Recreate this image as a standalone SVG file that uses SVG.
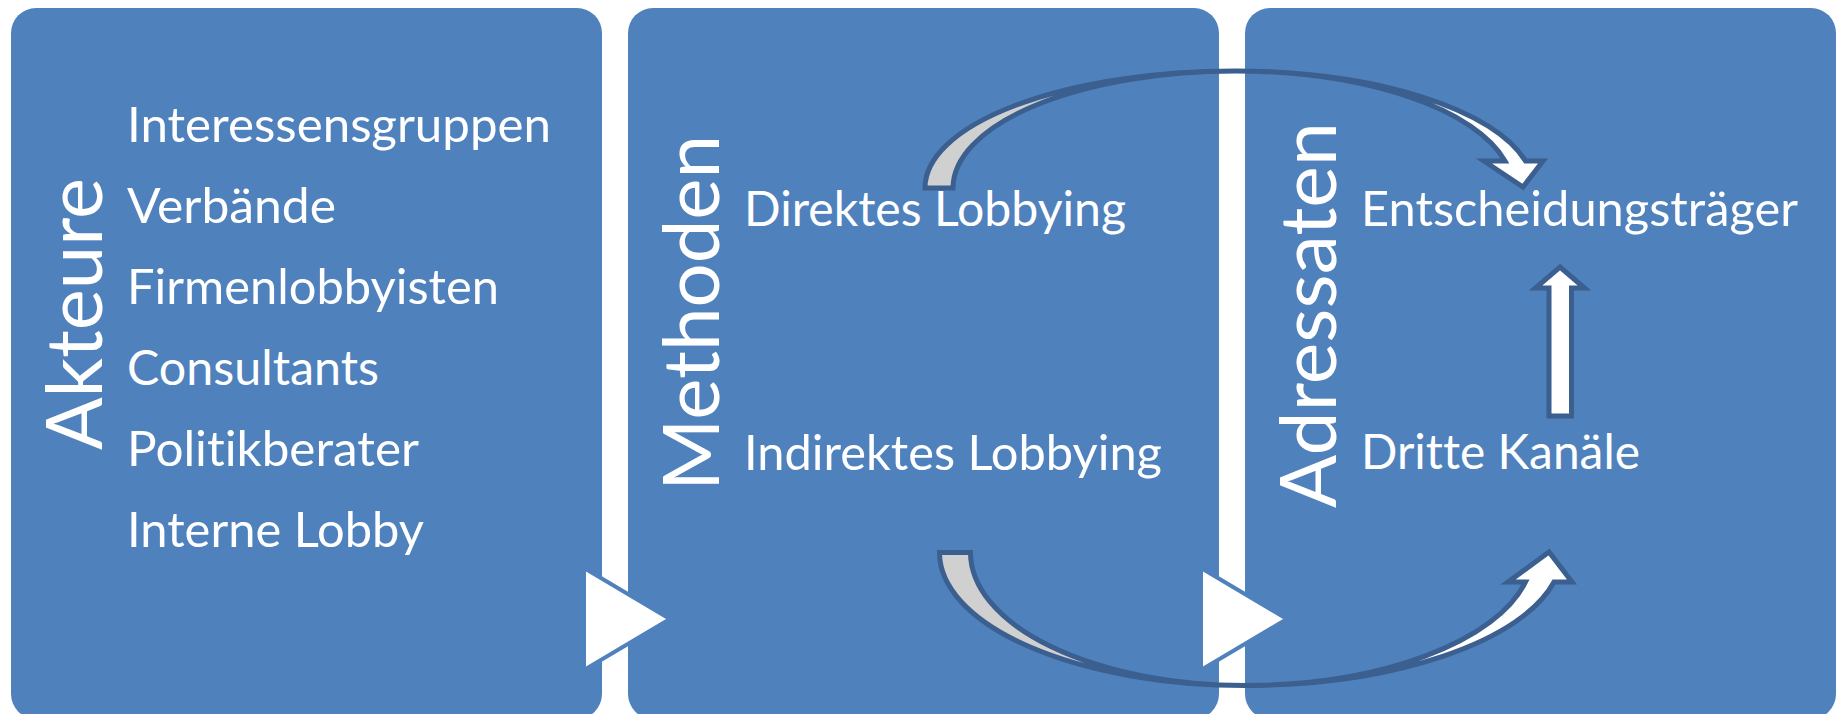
<svg xmlns="http://www.w3.org/2000/svg" width="1839" height="714" viewBox="0 0 1839 714">
<style>
.box{fill:#4f81bd}
.item{font-family:Lato,"Open Sans",sans-serif;font-size:47.5px;fill:#ffffff;font-variant-ligatures:none}
.title{font-family:Lato,"Open Sans",sans-serif;font-size:77px;fill:#ffffff;font-variant-ligatures:none}
.chev{fill:#ffffff;stroke:#4f81bd;stroke-width:4}
.arr{stroke:#3b5f8e;stroke-width:5;stroke-linejoin:miter}
.back{fill:#d0d0d0}
.front{fill:#ffffff}
</style>
<rect width="1839" height="714" fill="#ffffff"/>
<g id="node-akteure">
<rect class="box" x="11" y="8" width="591" height="711" rx="25" ry="25"/>
<text class="title" text-anchor="middle" transform="translate(102,314) rotate(-90)" textLength="272" lengthAdjust="spacingAndGlyphs">Akteure</text>
<text class="item" x="127" y="141.5" textLength="424" lengthAdjust="spacingAndGlyphs">Interessensgruppen</text>
<text class="item" x="127" y="222.5" textLength="209" lengthAdjust="spacingAndGlyphs">Verbände</text>
<text class="item" x="127" y="303.5" textLength="372" lengthAdjust="spacingAndGlyphs">Firmenlobbyisten</text>
<text class="item" x="127" y="384.5" textLength="252" lengthAdjust="spacingAndGlyphs">Consultants</text>
<text class="item" x="127" y="465.5" textLength="292" lengthAdjust="spacingAndGlyphs">Politikberater</text>
<text class="item" x="127" y="546.5" textLength="297" lengthAdjust="spacingAndGlyphs">Interne Lobby</text>
</g>
<g id="node-methoden">
<rect class="box" x="628" y="8" width="591" height="711" rx="25" ry="25"/>
<text class="title" text-anchor="middle" transform="translate(719,313) rotate(-90)" textLength="356" lengthAdjust="spacingAndGlyphs">Methoden</text>
<text class="item" x="744" y="226" textLength="382" lengthAdjust="spacingAndGlyphs">Direktes Lobbying</text>
<text class="item" x="744" y="470" textLength="418" lengthAdjust="spacingAndGlyphs">Indirektes Lobbying</text>
</g>
<g id="node-adressaten">
<rect class="box" x="1245" y="8" width="591" height="711" rx="25" ry="25"/>
<text class="title" text-anchor="middle" transform="translate(1336,315) rotate(-90)" textLength="386" lengthAdjust="spacingAndGlyphs">Adressaten</text>
<text class="item" x="1361" y="226" textLength="437" lengthAdjust="spacingAndGlyphs">Entscheidungsträger</text>
<text class="item" x="1361" y="469" textLength="279" lengthAdjust="spacingAndGlyphs">Dritte Kanäle</text>
</g>
<g id="connectors">
<polygon class="chev" points="584,568 670,619 584,670"/>
<polygon class="chev" points="1201,568 1287,619 1201,670"/>
<path class="arr back" d="M925,188 A310 117 0 0 1 1235,71 A282 117 0 0 0 953,188 Z"/>
<path class="arr front" d="M1235,71 A299 117 0 0 1 1525.5,161 L1543,161 L1523,187 L1484,161 L1505,161 A277.5 117 0 0 0 1235,71 Z"/>
<path class="arr back" d="M939.5,552.5 A305.5 133 0 0 0 1245,685.5 A274.5 133 0 0 1 970.5,552.5 Z"/>
<path class="arr front" d="M1245,685.5 A318 133 0 0 0 1554,582 L1572,582 L1549,552 L1508,582 L1525.5,582 A288.7 133 0 0 1 1245,685.5 Z"/>
<path class="arr front" d="M1560,267 L1584.5,288 L1571.5,288 L1571.5,416 L1549,416 L1549,288 L1535.5,288 Z"/>
</g>
</svg>
